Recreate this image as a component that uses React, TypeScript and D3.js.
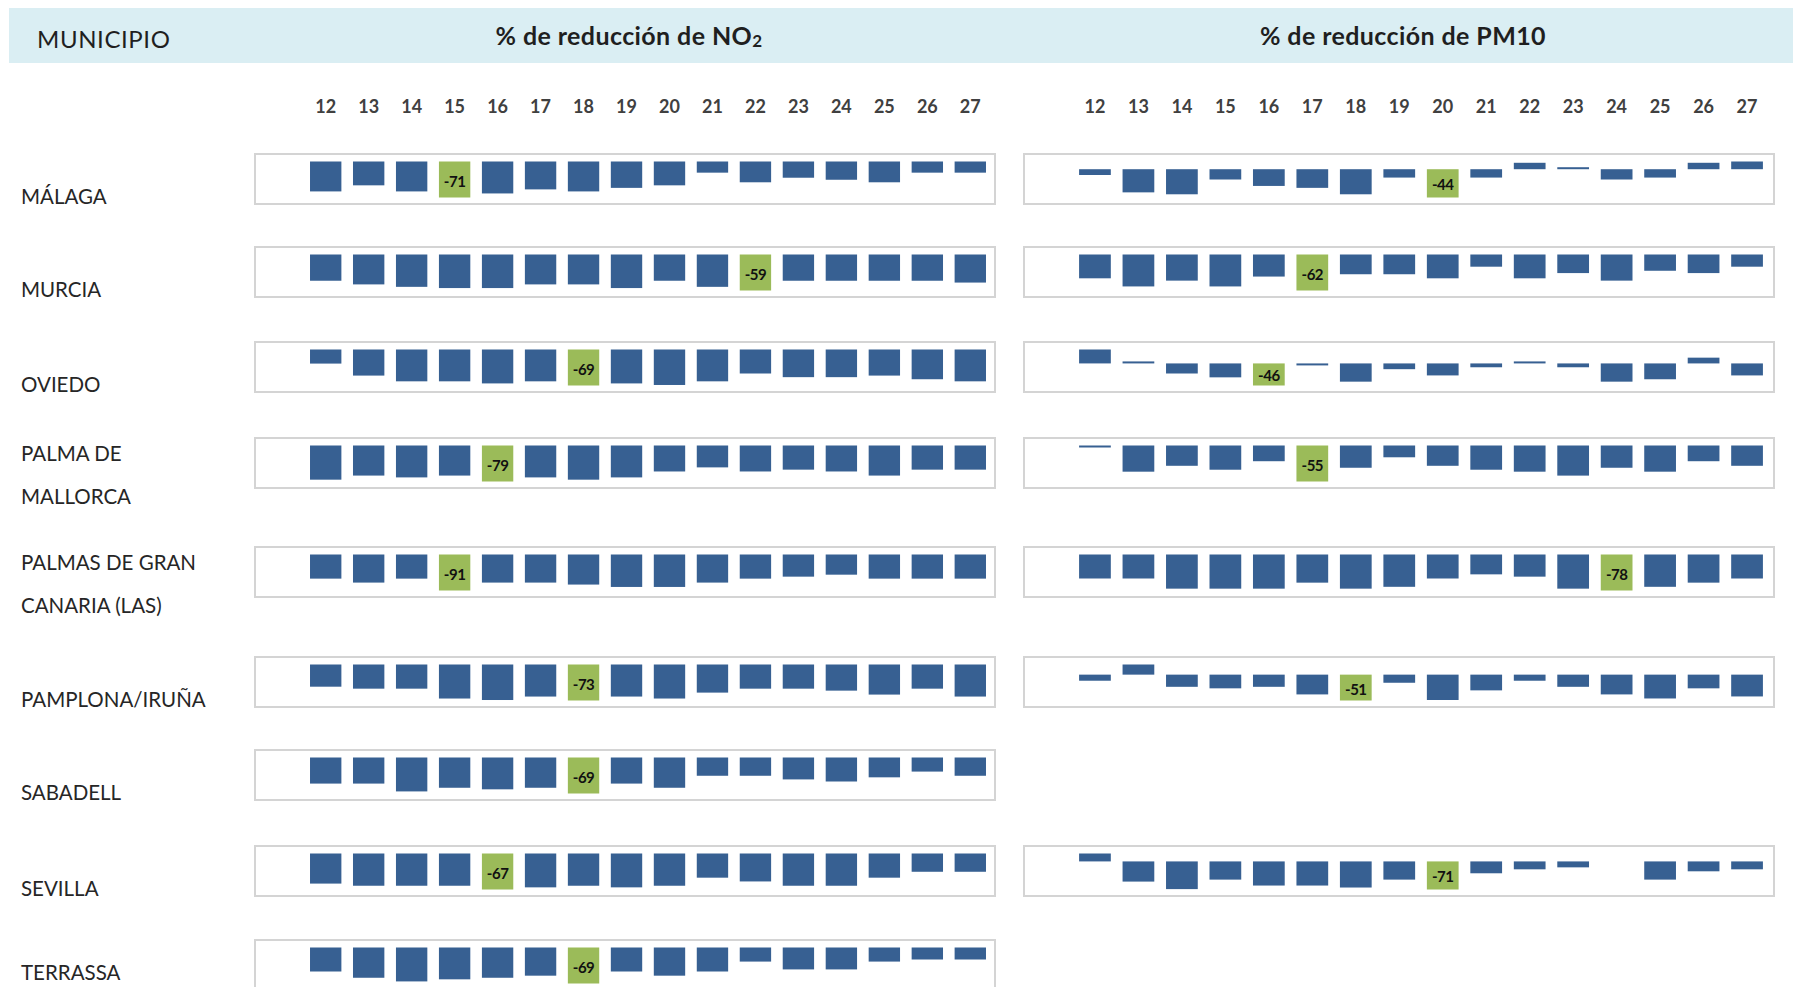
import React, { useRef, useEffect } from 'react';
import * as d3 from 'd3';

// column headers (years)
const years = ["12", "13", "14", "15", "16", "17", "18", "19", "20", "21", "22", "23", "24", "25", "26", "27"];

const municipios = [
    ["MÁLAGA"],
    ["MURCIA"],
    ["OVIEDO"],
    ["PALMA DE", "MALLORCA"],
    ["PALMAS DE GRAN", "CANARIA (LAS)"],
    ["PAMPLONA/IRUÑA"],
    ["SABADELL"],
    ["SEVILLA"],
    ["TERRASSA"],
];

// % de reducción de NO2
const malagaNO2 = [-59, -47, -59, -71, -63, -55, -59, -52, -47, -22, -41, -32, -36, -41, -22, -22];
const murciaNO2 = [-43, -49, -53, -55, -55, -49, -49, -55, -43, -53, -59, -43, -43, -43, -43, -46];
const oviedoNO2 = [-27, -50, -61, -61, -65, -61, -69, -65, -68, -61, -46, -53, -53, -50, -57, -61];
const palmaNO2 = [-75, -66, -70, -66, -79, -70, -75, -70, -57, -48, -57, -53, -57, -66, -53, -53];
const palmasNO2 = [-61, -71, -61, -91, -71, -71, -76, -82, -82, -71, -61, -56, -51, -61, -61, -61];
const pamplonaNO2 = [-45, -49, -49, -69, -72, -65, -73, -65, -69, -57, -49, -49, -53, -61, -49, -65];
const sabadellNO2 = [-50, -50, -65, -58, -61, -58, -69, -50, -58, -35, -35, -42, -46, -38, -27, -35];
const sevillaNO2 = [-56, -60, -60, -60, -67, -63, -60, -63, -60, -45, -52, -60, -60, -45, -34, -34];
const terrassaNO2 = [-46, -58, -65, -61, -58, -54, -69, -46, -54, -46, -27, -42, -42, -27, -23, -23];

// % de reducción de PM10 (null = no data)
const malagaPM10 = [-9, -36, -39, -16, -26, -29, -39, -13, -44, -13, 10, 1, -16, -13, 10, 12];
const murciaPM10 = [-41, -55, -45, -55, -38, -62, -34, -34, -41, -21, -41, -32, -45, -28, -32, -21];
const oviedoPM10 = [29, 2, -21, -29, -46, -3, -38, -12, -25, -8, 2, -8, -38, -33, 12, -25];
const palmaPM10 = [-2, -40, -31, -37, -24, -55, -34, -18, -31, -37, -40, -46, -34, -40, -24, -31];
const palmasPM10 = [-52, -52, -74, -74, -74, -61, -74, -70, -52, -43, -48, -74, -78, -70, -61, -52];
const pamplonaPM10 = [-12, 20, -24, -27, -24, -39, -51, -16, -50, -31, -12, -24, -39, -47, -27, -43];
const sevillaPM10 = [20, -51, -70, -46, -61, -61, -66, -46, -71, -30, -20, -15, null, -46, -25, -20];

const no2Rows = [malagaNO2, murciaNO2, oviedoNO2, palmaNO2, palmasNO2, pamplonaNO2, sabadellNO2, sevillaNO2, terrassaNO2];
const pm10Rows = [malagaPM10, murciaPM10, oviedoPM10, palmaPM10, palmasPM10, pamplonaPM10, null, sevillaPM10, null];

const App = () => {

    const svgRef = useRef(null);

    useEffect(() => {

        const svgWidth = 1793;
        const svgHeight = 987;

        const font = "Lato, 'Open Sans', sans-serif";
        const barColor = "#376092";
        const lowColor = "#9bbb59";

        const rowTops = [154, 247, 342, 438, 547, 657, 750, 846, 940];
        const boxH = 50;

        const panels = [
            { title: "NO", sub: "2", box: [255, 995], bars: [304, 992], rows: no2Rows },
            { title: "PM10", sub: "", box: [1024, 1774], bars: [1073, 1769], rows: pm10Rows },
        ];

        const svg = d3.select(svgRef.current)
            .attr("width", svgWidth)
            .attr("height", svgHeight);

        svg.selectAll("*").remove();

        // header band
        svg.append("rect")
            .attr("x", 9).attr("y", 8)
            .attr("width", svgWidth - 9).attr("height", 55)
            .attr("fill", "#daeef3");

        svg.append("text")
            .attr("x", 37).attr("y", 48)
            .attr("font-family", font)
            .attr("font-size", 24)
            .attr("letter-spacing", 0.6)
            .attr("fill", "#1f1f1f")
            .text("MUNICIPIO");

        // row labels
        municipios.forEach((lines, i) => {
            const top = rowTops[i];
            const ys = lines.length === 1 ? [Math.min(top + boxH, 980)] : [top + 23, top + 66];
            lines.forEach((line, j) => {
                svg.append("text")
                    .attr("x", 21).attr("y", ys[j])
                    .attr("font-family", font)
                    .attr("font-size", 20.5)
                    .attr("fill", "#262626")
                    .text(line);
            });
        });

        panels.forEach((p) => {

            const xScale = d3.scaleBand()
                .domain(years)
                .range(p.bars)
                .paddingInner(0.27)
                .paddingOuter(0.14);

            // title
            const title = svg.append("text")
                .attr("x", (p.box[0] + p.box[1]) / 2 + 4)
                .attr("y", 45)
                .attr("text-anchor", "middle")
                .attr("font-family", font)
                .attr("font-size", 25)
                .attr("letter-spacing", 0.4)
                .attr("font-weight", "bold")
                .attr("fill", "#1f1f1f");
            title.append("tspan").text("% de reducción de " + p.title);
            if (p.sub) {
                title.append("tspan").attr("font-size", 17).attr("dy", 2).text(p.sub);
            }

            // year labels
            svg.append("g")
                .selectAll("text")
                .data(years)
                .enter()
                .append("text")
                .attr("x", (d) => xScale(d) + xScale.bandwidth() / 2)
                .attr("y", 113)
                .attr("text-anchor", "middle")
                .attr("font-family", font)
                .attr("font-size", 18)
                .attr("font-weight", "bold")
                .attr("fill", "#404040")
                .text((d) => d);

            p.rows.forEach((values, i) => {
                if (!values) return;
                const top = rowTops[i];

                svg.append("rect")
                    .attr("x", p.box[0]).attr("y", top)
                    .attr("width", p.box[1] - p.box[0]).attr("height", boxH)
                    .attr("fill", "#ffffff")
                    .attr("stroke", "#d4d4d4")
                    .attr("stroke-width", 2);

                const valid = values.filter((v) => v !== null);
                const yScale = d3.scaleLinear()
                    .domain([d3.min(valid), Math.max(0, d3.max(valid))])
                    .range([top + 43.5, top + 7.5]);

                const lowIdx = d3.minIndex(values, (v) => (v === null ? undefined : v));
                const data = values.map((v, k) => ({ year: years[k], v, low: k === lowIdx }))
                    .filter((d) => d.v !== null);

                const g = svg.append("g");

                g.selectAll("rect")
                    .data(data)
                    .enter()
                    .append("rect")
                    .attr("x", (d) => xScale(d.year))
                    .attr("width", xScale.bandwidth())
                    .attr("y", (d) => {
                        const h = Math.max(2, Math.abs(yScale(d.v) - yScale(0)));
                        return d.v >= 0 ? yScale(0) - h : yScale(0);
                    })
                    .attr("height", (d) => Math.max(2, Math.abs(yScale(d.v) - yScale(0))))
                    .attr("fill", (d) => (d.low ? lowColor : barColor));

                const low = data.find((d) => d.low);
                g.append("text")
                    .attr("x", xScale(low.year) + xScale.bandwidth() / 2)
                    .attr("y", (yScale(0) + yScale(low.v)) / 2 + 7)
                    .attr("text-anchor", "middle")
                    .attr("font-family", font)
                    .attr("font-size", 15)
                    .attr("font-weight", "bold")
                    .attr("letter-spacing", -0.5)
                    .attr("fill", "#111111")
                    .text(low.v);
            });
        });

    }, []);

    return (
        <div>
            <svg ref={svgRef} style={{ position: "absolute", left: 0, top: 0, display: "block" }} />
        </div>
    );
};

export default App;
